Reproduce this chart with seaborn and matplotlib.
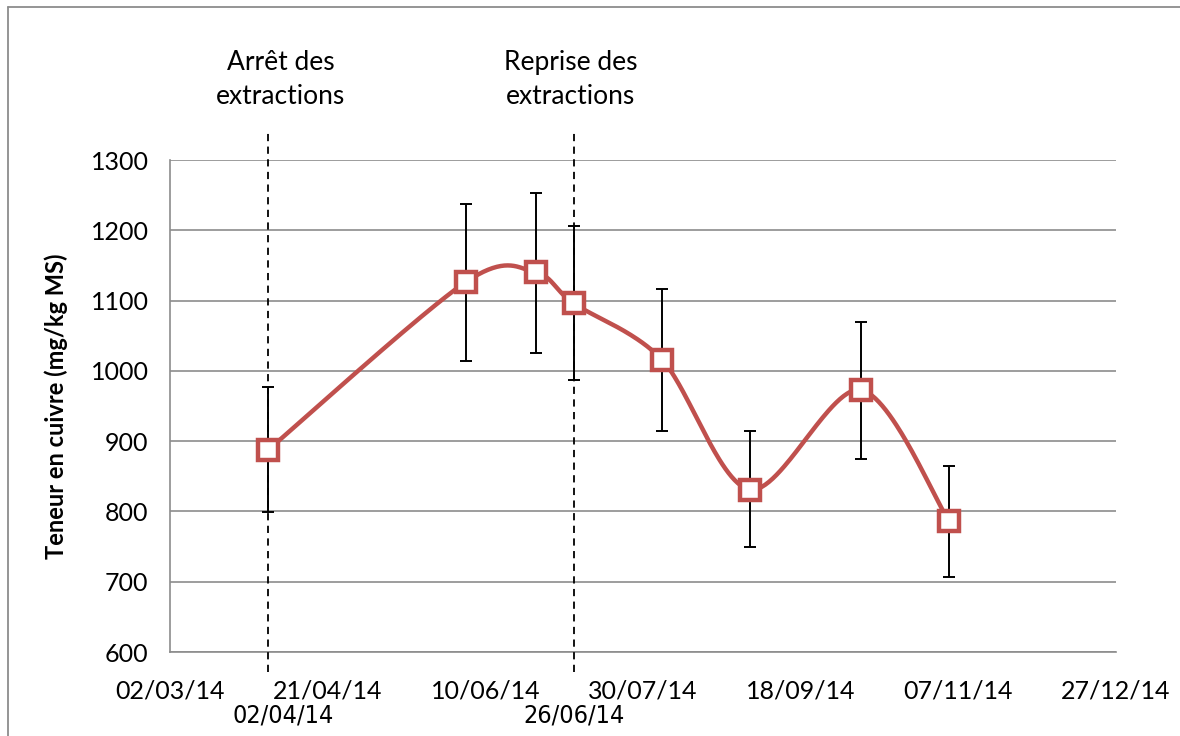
import numpy as np
import pandas as pd
import matplotlib
matplotlib.use("Agg")
import matplotlib.pyplot as plt
import matplotlib.dates as mdates
import matplotlib.transforms as mtransforms
from matplotlib.lines import Line2D
import seaborn as sns

# ---- data ----
dates = ["2014-04-02", "2014-06-04", "2014-06-26", "2014-07-08",
         "2014-08-05", "2014-09-02", "2014-10-07", "2014-11-04"]
copper = [887, 1127, 1140, 1096, 1016, 831, 973, 786]
err_upper = [977, 1238, 1253, 1206, 1116, 914, 1069, 865]
err_lower = [799, 1014, 1025, 987, 914, 749, 875, 707]

event_dates = ["2014-04-02", "2014-07-08"]
event_titles = ["Arrêt des\nextractions", "Reprise des\nextractions"]
event_title_pos = ["2014-04-06", "2014-07-07"]
event_labels = ["02/04/14", "26/06/14"]
event_label_pos = ["2014-04-07", "2014-07-08"]

x_ticks = ["2014-03-02", "2014-04-21", "2014-06-10", "2014-07-30",
           "2014-09-18", "2014-11-07", "2014-12-27"]
y_ticks = [600, 700, 800, 900, 1000, 1100, 1200, 1300]
y_label = "Teneur en cuivre (mg/kg MS)"

RED = "#C0504D"
GRID = "#8C8C8C"

sns.set_theme(style="white")
plt.rcParams["font.family"] = ["Lato", "DejaVu Sans"]

W, H = 1180, 736
fig = plt.figure(figsize=(W / 100, H / 100), dpi=100)
ax = fig.add_axes([170 / W, (H - 652) / H, (1116 - 170) / W, (652 - 160) / H])

xd = pd.to_datetime(dates)
xn = mdates.date2num(xd)
y = np.array(copper, dtype=float)

# Excel-like smoothed line (cardinal Bezier through points)
def smooth(xs, ys, n=60, k=1 / 6.5):
    P = np.column_stack([xs, ys])
    m = len(P)
    out = []
    for i in range(m - 1):
        p0 = P[max(i - 1, 0)]
        p1 = P[i]
        p2 = P[i + 1]
        p3 = P[min(i + 2, m - 1)]
        c1 = p1 + (p2 - p0) * k
        c2 = p2 - (p3 - p1) * k
        t = np.linspace(0, 1, n)[:, None]
        seg = ((1 - t) ** 3) * p1 + 3 * ((1 - t) ** 2) * t * c1 + 3 * (1 - t) * t ** 2 * c2 + t ** 3 * p2
        out.append(seg if i == 0 else seg[1:])
    return np.vstack(out)

curve = smooth(xn, y)
curve_df = pd.DataFrame({"x": mdates.num2date(curve[:, 0]), "y": curve[:, 1]})
curve_df["x"] = pd.to_datetime(curve_df["x"]).dt.tz_localize(None)

ax.set_ylim(600, 1300)
ax.set_xlim(pd.Timestamp(x_ticks[0]), pd.Timestamp(x_ticks[-1]))
ax.set_yticks(y_ticks)
ax.yaxis.grid(True, color=GRID, lw=1.2)
ax.set_axisbelow(True)

# error bars
yerr = np.vstack([y - np.array(err_lower), np.array(err_upper) - y])
ax.errorbar(xd, y, yerr=yerr, fmt="none", ecolor="black", elinewidth=1.4,
            capsize=4.2, capthick=1.4, zorder=3)

# event dashed lines
trans = mtransforms.blended_transform_factory(ax.transData, ax.transAxes)
for d in event_dates:
    ax.plot([pd.Timestamp(d), pd.Timestamp(d)], [-0.04, 1.061], transform=trans,
            color="black", lw=1.3, ls=(0, (4, 3)), clip_on=False, zorder=4)

# smoothed line + markers
sns.lineplot(data=curve_df, x="x", y="y", sort=False, color=RED, lw=3.2,
             ax=ax, zorder=5, estimator=None)
ax.plot(xd, y, ls="none", marker="s", ms=14.5, mfc="white", mec=RED, mew=3.2, zorder=6)

# event titles
for t, p in zip(event_titles, event_title_pos):
    ax.text(pd.Timestamp(p), 1.163, t, transform=trans, ha="center", va="center",
            fontsize=19, linespacing=1.45, color="black")
for t, p in zip(event_labels, event_label_pos):
    ax.text(pd.Timestamp(p), -0.130, t, transform=trans, ha="center", va="center",
            fontsize=18, color="black",
            family=["Liberation Sans Narrow", "DejaVu Sans"], fontstretch="condensed")

# axes styling
ax.set_xticks(pd.to_datetime(x_ticks))
ax.xaxis.set_major_formatter(mdates.DateFormatter("%d/%m/%y"))
for s in ["top", "right"]:
    ax.spines[s].set_visible(False)
for s in ["left", "bottom"]:
    ax.spines[s].set_color(GRID)
    ax.spines[s].set_linewidth(1.2)
ax.tick_params(axis="both", which="major", direction="out", length=6.5, width=1.2,
               color=GRID, labelsize=18, labelcolor="black")
ax.tick_params(axis="y", pad=9)
ax.tick_params(axis="x", pad=13)
ax.set_xlabel("")
ax.set_ylabel(y_label, fontsize=17, fontweight="bold", color="black")
ax.yaxis.set_label_coords(-0.108, 0.5)

# chart-area border (top and left visible)
fig.add_artist(Line2D([7.5 / W, 1.0], [1 - 6.5 / H, 1 - 6.5 / H], color=GRID, lw=1.3,
                      transform=fig.transFigure))
fig.add_artist(Line2D([7.5 / W, 7.5 / W], [0.0, 1 - 6.5 / H], color=GRID, lw=1.3,
                      transform=fig.transFigure))

fig.savefig("out.png", dpi=100)
